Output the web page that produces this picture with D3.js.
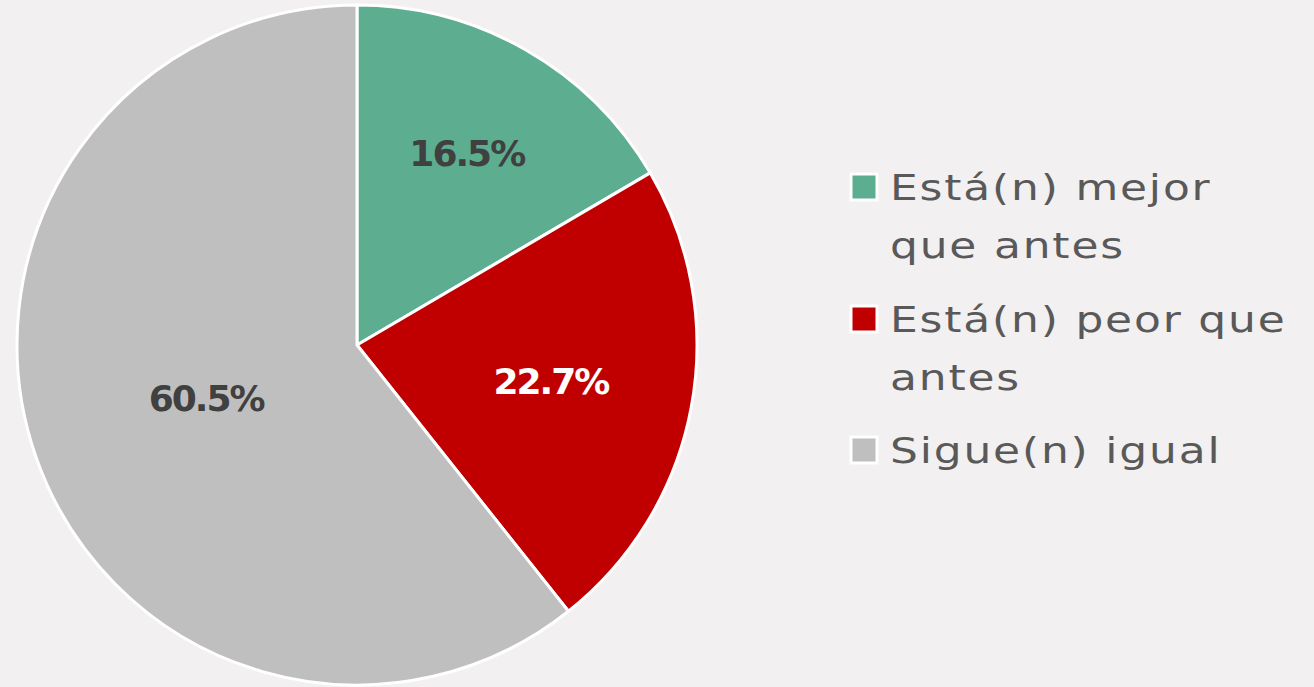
<!DOCTYPE html>
<html>
<head>
<meta charset="utf-8">
<script src="https://cdn.jsdelivr.net/npm/d3@7"></script>
<style>
  html, body { margin: 0; padding: 0; background: #f2f0f1; }
  svg { display: block; font-family: "DejaVu Sans", "Open Sans", sans-serif; }
</style>
</head>
<body>
<div class="chart-section"></div>
<script>
const categories = ["Está(n) mejor que antes", "Está(n) peor que antes", "Sigue(n) igual"];
const legendLines = [["Está(n) mejor", "que antes"], ["Está(n) peor que", "antes"], ["Sigue(n) igual"]];
const values = [16.5, 22.7, 60.5];
const colors = ["#5dae91", "#c00000", "#bfbfbf"];
const labelColors = ["#404040", "#ffffff", "#404040"];
// where each label sits, as a share of the radius
const labelRadius = [0.65, 0.58, 0.47];

const width = 1314;
const height = 687;
const cx = 357;
const cy = 345;
const r = 340;

const svg = d3
  .select(".chart-section")
  .append("svg")
  .attr("width", width)
  .attr("height", height);

const pie = d3.pie().sort(null).value((d) => d.value);
const arcs = pie(values.map((v, i) => ({ value: v, i })));

const arc = d3.arc().innerRadius(0).outerRadius(r);

const g = svg.append("g").attr("transform", `translate(${cx},${cy})`);

g.selectAll("path")
  .data(arcs)
  .join("path")
  .attr("d", arc)
  .attr("fill", (d) => colors[d.data.i])
  .attr("stroke", "#ffffff")
  .attr("stroke-width", 3)
  .attr("stroke-linejoin", "round");

g.selectAll("text.label")
  .data(arcs)
  .join("text")
  .attr("class", "label")
  .attr("transform", (d) => {
    const lr = r * labelRadius[d.data.i];
    const c = d3.arc().innerRadius(lr).outerRadius(lr).centroid(d);
    return `translate(${c})`;
  })
  .attr("text-anchor", "middle")
  .attr("dy", "0.36em")
  .attr("font-size", 36)
  .attr("font-weight", 700)
  .attr("letter-spacing", -2)
  .attr("fill", (d) => labelColors[d.data.i])
  .text((d) => d.data.value.toFixed(1) + "%");

// legend
const legend = svg.append("g").attr("transform", "translate(850, 0)");
const itemY = [200, 332, 463];
const lineH = 58;
const stretch = 1.22; // the original face is much wider than DejaVu

const item = legend
  .selectAll("g")
  .data(categories)
  .join("g")
  .attr("transform", (d, i) => `translate(0, ${itemY[i]})`);

item
  .append("rect")
  .attr("x", 1)
  .attr("y", -26)
  .attr("width", 26)
  .attr("height", 26)
  .attr("fill", (d, i) => colors[i])
  .attr("stroke", "#ffffff")
  .attr("stroke-width", 3);

item
  .append("text")
  .attr("transform", `translate(40,0) scale(${stretch},1)`)
  .attr("font-size", 36)
  .attr("letter-spacing", 1.5)
  .attr("fill", "#595959")
  .selectAll("tspan")
  .data((d, i) => legendLines[i])
  .join("tspan")
  .attr("x", 0)
  .attr("y", (d, i) => i * lineH)
  .text((d) => d);
</script>
</body>
</html>
